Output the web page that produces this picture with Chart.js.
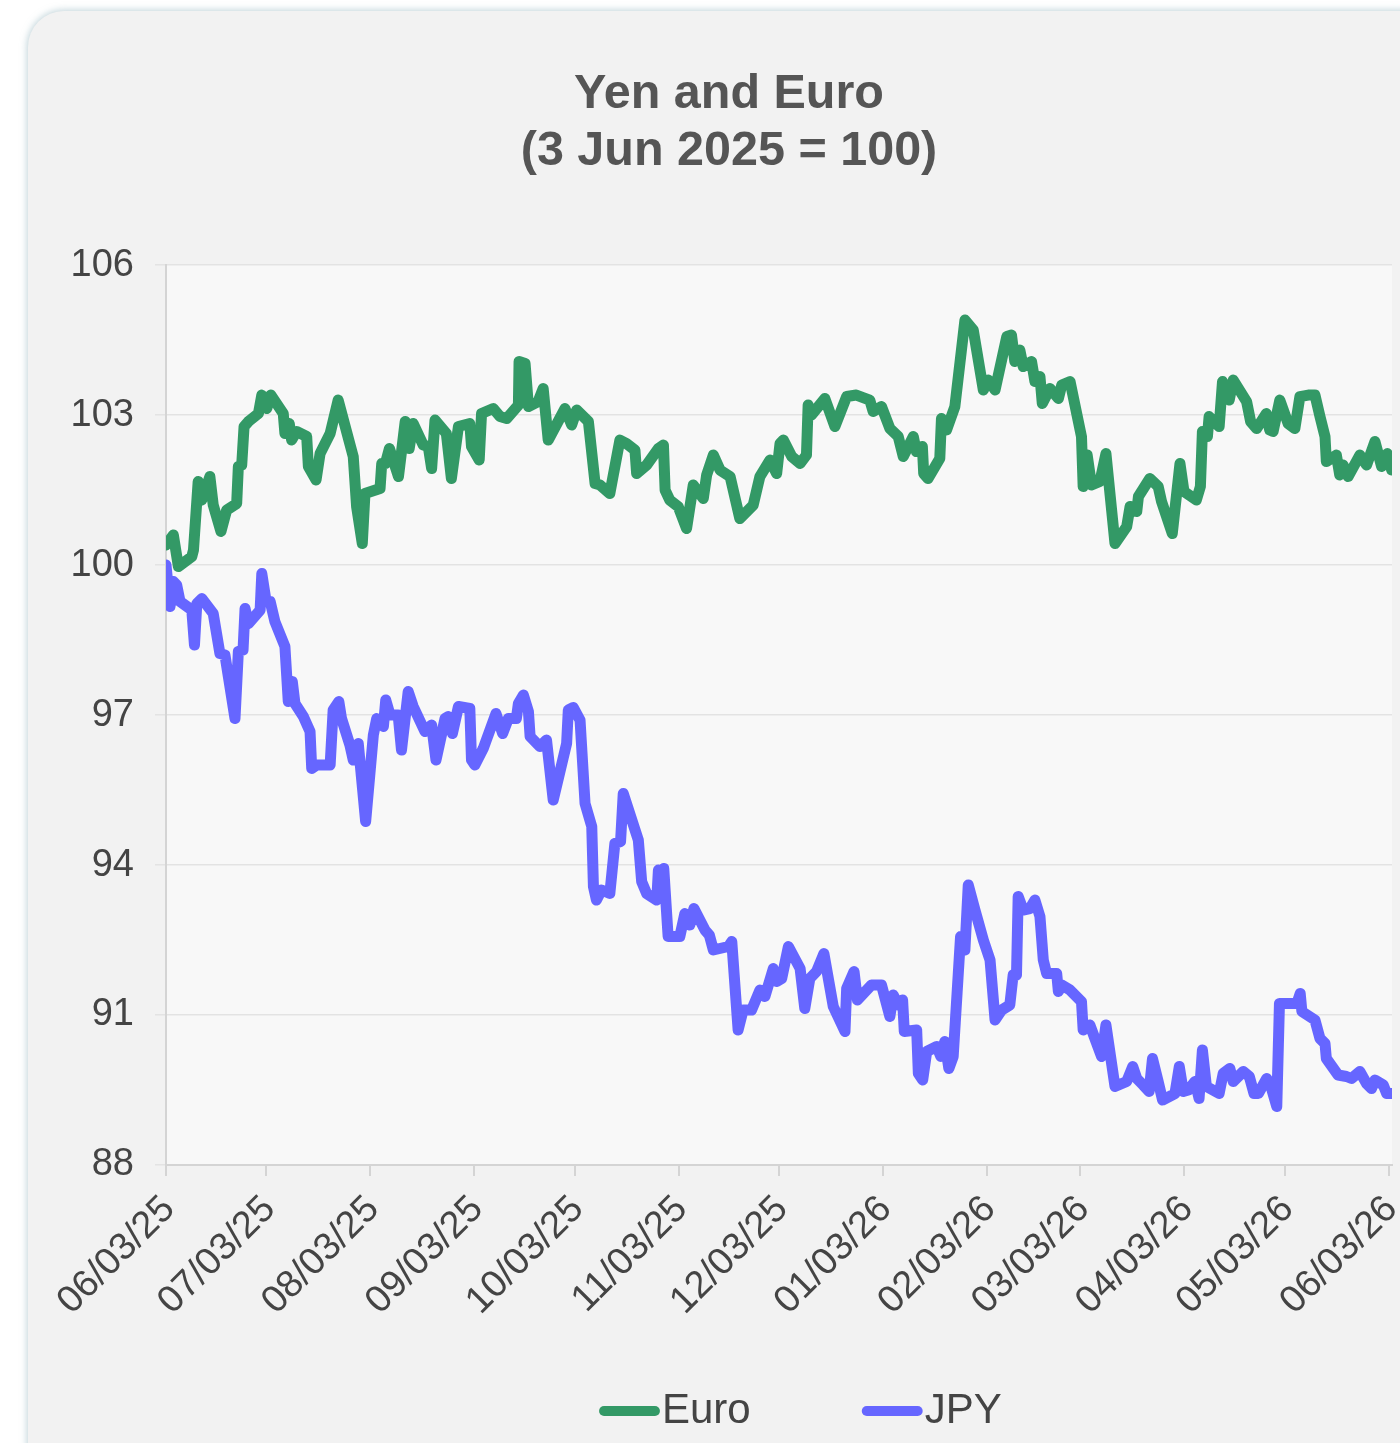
<!DOCTYPE html>
<html>
<head>
<meta charset="utf-8">
<script src="https://cdn.jsdelivr.net/npm/chart.js@4"></script>
<style>
  html, body { margin: 0; padding: 0; background: #ffffff; overflow: hidden; width: 1400px; height: 1443px; }
  #card {
    position: absolute; left: 28px; top: 11px; width: 1420px; height: 1500px;
    background: #f2f2f2; border-radius: 36px;
    box-shadow: 0 0 7px 1px rgba(140, 175, 185, 0.55);
  }
  #wrap { position: absolute; left: 20px; top: 0px; width: 1422px; height: 1442px; }
</style>
</head>
<body>
<div id="card"></div>
<div id="wrap"><canvas id="c"></canvas></div>
<script>
// ---- data (day offset from 3 Jun 2025, index value) ----
const tickDays   = [0, 30, 61, 92, 122, 153, 183, 214, 245, 273, 304, 334, 365];
const tickLabels = ['06/03/25','07/03/25','08/03/25','09/03/25','10/03/25','11/03/25','12/03/25',
                    '01/03/26','02/03/26','03/03/26','04/03/26','05/03/26','06/03/26'];

const euroDays = [0,2.2,3.7,7.7,8.2,9.6,10.7,13.1,14.1,16.4,18.1,21.1,21.6,22.6,23.3,24.6,27.6,28.6,30.1,31.3,
  33,35,35.5,36.8,37.5,39,42,42.5,44.8,46,49,51.4,55.9,56.9,58.6,59.4,63.9,64.4,65.5,66.7,
  69.4,71.4,72.6,73.8,76.8,78.3,79.3,80.3,83.7,85.2,87.3,90.7,91.2,93.5,94.2,97.7,99.7,101.7,105.2,105.4,
  107.2,108.2,111.1,112.6,114.1,119.1,121.1,122.6,126.1,128.1,129.6,132.5,135.5,137.5,140,140.5,143.5,147,148.5,149,
  150.4,152.9,155.4,157.4,160.4,161.4,163.4,165.4,168.4,171.3,175.3,177.3,180.3,182.3,183.3,184.3,186.8,189.3,191.2,191.7,
  192.7,196.7,199.7,203.2,206.1,210.1,211.1,213.6,216.1,218.6,220.1,223.1,224,225.8,226.2,227.5,231,231.5,233,235.5,
  238.5,241,244,245.5,247.5,251,252.4,253.4,254.9,255.9,258.4,259.4,260.9,261.6,263.9,266.4,267.4,269.9,273.3,273.8,
  275,276.3,278.8,280.6,283.3,286.8,287.8,289.8,290.3,293.7,296.2,297.2,300.4,302.7,303.9,307.6,308.8,309.4,310.9,311.4,
  314.4,315.4,317.4,318.6,322.6,323.8,325.6,328.5,329.5,330.5,332.5,335,337,338.5,341,343,344.5,346,346.4,349.4,
  350.4,351.4,352.9,356.4,358.4,360.9,362.9,364.6,365.9];
const euroValues = [100.4,100.6,99.97,100.17,100.3,101.67,101.3,101.77,101.2,100.67,101.1,101.23,101.97,102.0,102.77,102.87,103.03,103.4,103.13,103.4,
  103.23,103.03,102.63,102.83,102.5,102.67,102.57,101.97,101.7,102.23,102.63,103.3,102.17,101.17,100.43,101.43,101.53,102.03,102.03,102.33,
  101.77,102.87,102.33,102.83,102.4,102.37,101.93,102.9,102.63,101.73,102.77,102.83,102.37,102.1,103.03,103.13,102.97,102.93,103.2,104.07,
  104.03,103.17,103.27,103.53,102.5,103.13,102.8,103.1,102.87,101.63,101.6,101.43,102.5,102.43,102.3,101.83,102.0,102.33,102.4,101.5,
  101.3,101.17,100.73,101.6,101.33,101.8,102.2,101.9,101.77,100.93,101.2,101.77,102.1,101.83,102.43,102.5,102.17,102.03,102.2,103.2,
  103.0,103.33,102.77,103.37,103.4,103.3,103.07,103.17,102.73,102.57,102.17,102.57,102.27,102.37,101.83,101.73,102.13,102.93,102.7,103.17,
  104.9,104.7,103.5,103.7,103.5,104.57,104.6,104.07,104.3,103.97,104.07,103.67,103.77,103.23,103.53,103.33,103.6,103.67,102.57,101.57,
  102.2,101.6,101.67,102.23,100.43,100.77,101.17,101.07,101.37,101.73,101.57,101.27,100.63,102.03,101.47,101.3,101.57,102.67,102.57,102.97,
  102.77,103.67,103.3,103.7,103.27,102.87,102.73,103.03,102.7,102.67,103.3,102.83,102.73,103.37,103.4,103.4,102.97,102.57,102.07,102.2,
  101.8,102.0,101.77,102.2,102.0,102.47,101.97,102.23,101.9];

const jpyDays = [0,1.2,2.2,3.2,4.2,7.7,8.5,9.2,10.7,14.1,16.1,17.6,20.6,21.6,23,23.6,24.6,28.1,28.6,29.9,
  31.1,32.5,35.5,36.5,37.7,38.5,41,43,43.5,45,49,49.9,51.6,52.4,54.9,55.9,57.4,59.6,61.9,62.9,
  64.9,65.6,66.9,69.3,70.3,72.3,73.8,77.3,79.3,80.6,83.3,84.3,85.5,87.3,90.7,91.2,92.2,94.7,98.5,100.5,
  102.2,104.6,105.2,106.7,108.2,108.7,111.6,113.6,115.6,119.6,120.1,121.6,123.6,125.1,127.1,127.6,128.5,130,132.5,134,
  135.7,136.5,141,142,143.5,146.5,147,147.9,148.6,149.9,153.4,154.9,156.4,157.6,160.9,162.2,163.4,167.9,168.9,170.8,
  172.3,174.8,177.3,178.8,181.3,182.3,183.8,185.8,189.3,190.7,192.2,194.2,196.4,199.2,202.7,203.2,205.4,206.4,210.6,213.6,
  216.1,217.1,218.6,219.9,220.4,224.1,224.6,225.9,227.1,230.1,231.3,232.5,233.7,235,237.2,238.5,239.5,241.5,244,246,
  247.5,249.5,251.9,252.9,253.9,254.4,255.9,257.9,259.4,260.9,261.9,262.9,265.9,266.4,267.4,269.9,273.3,273.8,275.8,279.3,
  280.6,283.3,286.8,288.6,289.8,291.7,293.5,294.5,296.2,297.5,301.2,302.5,303.7,305.2,307.2,308.4,309.4,310.6,314.4,315.6,
  317.6,318.6,321.6,323.4,324.8,326.1,328.6,329.6,331.6,332.4,336.1,337.6,338.6,339.1,343,344.5,346,346.4,349.9,352.4,
  353.9,356.4,358.4,359.9,360.9,363.4,364.4,366];
const jpyValues = [100.0,99.17,99.67,99.6,99.27,99.1,98.4,99.23,99.33,99.03,98.23,98.2,96.93,98.27,98.3,99.13,98.83,99.1,99.83,99.27,
  99.27,98.87,98.37,97.27,97.67,97.23,96.97,96.67,95.93,96.0,96.0,97.1,97.27,96.93,96.4,96.1,96.43,94.87,96.6,96.93,
  96.77,97.3,97.0,97.0,96.3,97.47,97.17,96.67,96.8,96.1,96.93,96.97,96.63,97.17,97.13,96.1,96.0,96.33,97.03,96.63,
  96.93,96.93,97.23,97.4,97.07,96.57,96.37,96.5,95.3,96.43,97.1,97.15,96.9,95.23,94.77,93.57,93.3,93.5,93.43,94.43,
  94.47,95.43,94.5,93.67,93.43,93.3,93.9,93.5,93.93,92.57,92.57,93.03,92.8,93.13,92.7,92.6,92.3,92.37,92.47,90.7,
  91.1,91.1,91.5,91.37,91.93,91.67,91.73,92.37,91.93,91.13,91.73,91.87,92.23,91.17,90.67,91.53,91.87,91.3,91.6,91.6,
  90.97,91.4,91.2,91.3,90.67,90.7,89.83,89.7,90.27,90.37,90.17,90.47,89.93,90.17,92.57,92.3,93.6,93.1,92.5,92.1,
  90.9,91.1,91.2,91.8,91.8,93.37,93.1,93.13,93.3,92.97,92.1,91.83,91.83,91.47,91.6,91.5,91.27,90.7,90.8,90.17,
  90.8,89.57,89.67,89.97,89.73,89.6,89.47,90.13,89.67,89.3,89.43,89.97,89.47,89.5,89.67,89.33,90.3,89.57,89.43,89.83,
  89.93,89.67,89.87,89.77,89.43,89.43,89.73,89.63,89.17,91.23,91.23,91.23,91.43,91.07,90.9,90.53,90.43,90.13,89.8,89.77,
  89.73,89.87,89.63,89.53,89.7,89.6,89.43,89.43];

const seriesNames = ['Euro', 'JPY'];
const seriesColors = ['#339966', '#6666ff'];

// ---- plugins ----
const plotBg = {
  id: 'plotBg',
  beforeDraw(chart) {
    const a = chart.chartArea, ctx = chart.ctx;
    ctx.save();
    ctx.fillStyle = '#f8f8f8';
    ctx.fillRect(a.left, a.top, a.right - a.left, a.bottom - a.top);
    ctx.restore();
  }
};
const LEGEND_START = 598; // canvas x of first legend item
const legendShift = {
  id: 'legendShift',
  afterLayout(chart) {
    const lg = chart.legend;
    if (!lg || !lg.lineWidths) return;
    const P = lg.options.labels.padding;
    const start = (lg.left + P + lg.right - lg.lineWidths[0]) / 2;
    const dx = LEGEND_START - start;
    lg.left += dx; lg.right += dx;
  }
};

Chart.defaults.font.family = "'Liberation Sans', Arial, Helvetica, sans-serif";

const toXY = (xs, ys) => xs.map((d, i) => ({x: d, y: ys[i]}));
const lineStyle = { borderWidth: 11, tension: 0, borderJoinStyle: 'round', borderCapStyle: 'round', pointRadius: 0, pointHoverRadius: 0 };

new Chart(document.getElementById('c'), {
  type: 'line',
  data: {
    datasets: [
      Object.assign({ label: seriesNames[0], data: toXY(euroDays, euroValues), borderColor: seriesColors[0], backgroundColor: seriesColors[0] }, lineStyle),
      Object.assign({ label: seriesNames[1], data: toXY(jpyDays, jpyValues), borderColor: seriesColors[1], backgroundColor: seriesColors[1] }, lineStyle)
    ]
  },
  options: {
    responsive: true,
    maintainAspectRatio: false,
    animation: false,
    layout: { padding: { left: 46, right: 50, top: 0, bottom: 0 } },
    plugins: {
      title: {
        display: true,
        text: ['Yen and Euro', '(3 Jun 2025 = 100)'],
        color: '#555555',
        font: { size: 48.5, weight: 'bold', lineHeight: 1.18 },
        padding: { top: 66, bottom: 84.6 }
      },
      legend: {
        position: 'bottom',
        title: { display: true, text: '', font: { size: 10, lineHeight: 1.2 }, padding: -46 },
        labels: {
          usePointStyle: true,
          pointStyle: 'line',
          boxWidth: 23,
          boxHeight: 36,
          padding: 130,
          color: '#444444',
          font: { size: 42 },
          generateLabels(chart) {
            const items = Chart.defaults.plugins.legend.labels.generateLabels(chart);
            items.forEach((it, i) => {
              it.lineWidth = 10;
              it.lineCap = 'round';
              it.strokeStyle = seriesColors[i];
              it.fillStyle = seriesColors[i];
            });
            return items;
          }
        }
      },
      tooltip: { enabled: false }
    },
    scales: {
      x: {
        type: 'linear',
        min: 0,
        max: 366,
        afterBuildTicks(scale) { scale.ticks = tickDays.map(v => ({ value: v })); },
        afterFit(scale) { scale.height = 175; },
        ticks: {
          autoSkip: false,
          minRotation: 45,
          maxRotation: 45,
          padding: 11,
          labelOffset: 3,
          color: '#444444',
          font: { size: 38 },
          callback: (v, i) => tickLabels[i]
        },
        grid: { drawOnChartArea: false, drawTicks: true, tickLength: 11, color: '#d4d4d4', lineWidth: 2 },
        border: { display: true, color: '#d4d4d4', width: 2 }
      },
      y: {
        min: 88,
        max: 106,
        afterFit(scale) { scale.width = 100; },
        ticks: { stepSize: 3, padding: 21, color: '#444444', font: { size: 38 } },
        grid: { color: '#e3e3e3', lineWidth: 1.5, tickLength: 11, drawTicks: true },
        border: { display: true, color: '#d4d4d4', width: 2 }
      }
    }
  },
  plugins: [plotBg, legendShift]
});
</script>
</body>
</html>
